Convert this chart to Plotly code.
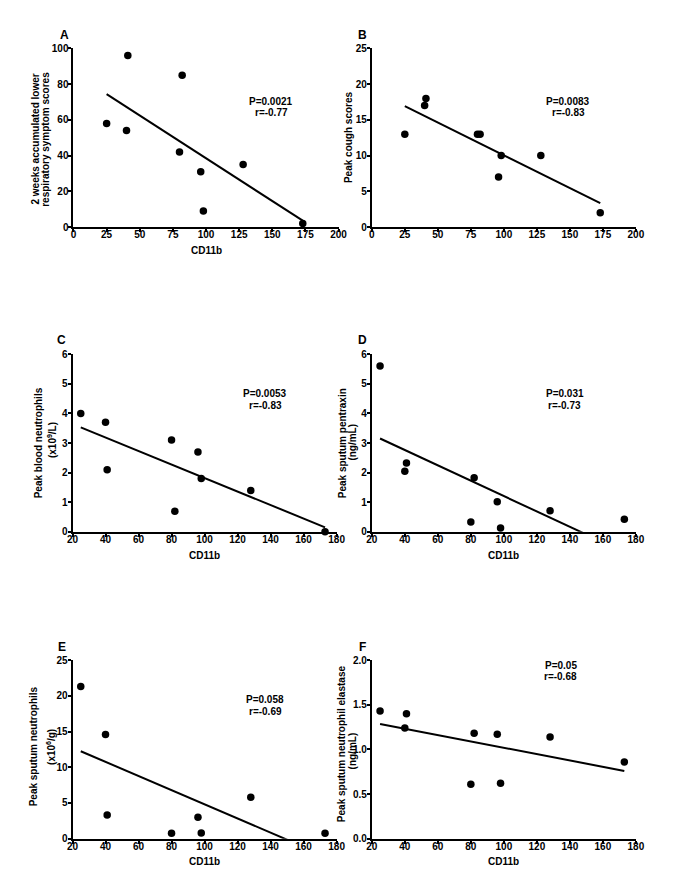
import numpy as np
import plotly.graph_objects as go

W, H = 685, 896

# ---- data ----
cd11b = [25, 40, 41, 80, 82, 96, 98, 128, 173]
symptom_scores = [58, 54, 96, 42, 85, 31, 9, 35, 2]
cough_scores = [13, 17, 18, 13, 13, 7, 10, 10, 2]
blood_neutrophils = [4.0, 3.7, 2.1, 3.1, 0.7, 2.7, 1.8, 1.4, 0.0]
sputum_pentraxin = [5.6, 2.05, 2.33, 0.33, 1.83, 1.02, 0.13, 0.71, 0.43]
cd11b_e = [25, 40, 41, 80, 96, 98, 128, 173]
sputum_neutrophils = [21.3, 14.6, 3.3, 0.75, 3.0, 0.8, 5.8, 0.75]
neutrophil_elastase = [1.43, 1.24, 1.40, 0.61, 1.18, 1.17, 0.62, 1.14, 0.86]

letters = ["A", "B", "C", "D", "E", "F"]
y_titles = [
    ["2 weeks accumulated lower", "respiratory symptom scores"],
    ["Peak cough scores"],
    ["Peak blood neutrophils", "(x10<sup>9</sup>/L)"],
    ["Peak sputum pentraxin", "(ng/mL)"],
    ["Peak sputum neutrophils", "(x10<sup>6</sup>/g)"],
    ["Peak sputum neutrophil elastase", "(ng/mL)"],
]
p_values = ["P=0.0021", "P=0.0083", "P=0.0053", "P=0.031", "P=0.058", "P=0.05"]
r_values = ["r=-0.77", "r=-0.83", "r=-0.83", "r=-0.73", "r=-0.69", "r=-0.68"]
x_title = "CD11b"

# ---- panel geometry (pixels) ----
panels = [
    dict(x=cd11b, y=symptom_scores, box=(69, 340, 43, 224), xr=[0, 200], xd=25, yr=[0, 100], yd=20, yf="",
         letter=(60, 29), yt=[(30, 135), (40.5, 135)], xt=248, stat=(271, 97, 108)),
    dict(x=cd11b, y=cough_scores, box=(374, 644, 43, 224), xr=[0, 200], xd=25, yr=[0, 25], yd=5, yf="",
         letter=(364, 29), yt=[(349.5, 133)], xt=None, stat=(575, 97, 108)),
    dict(x=cd11b, y=blood_neutrophils, box=(68, 338, 353, 533), xr=[20, 180], xd=20, yr=[0, 6], yd=1, yf="",
         letter=(57, 339), yt=[(33, 443), (47, 440)], xt=557, stat=(265, 393, 405)),
    dict(x=cd11b, y=sputum_pentraxin, box=(374, 644, 353, 533), xr=[20, 180], xd=20, yr=[0, 6], yd=1, yf="",
         letter=(364, 339), yt=[(343.7, 443), (354.3, 442)], xt=557, stat=(571.5, 393, 405)),
    dict(x=cd11b_e, y=sputum_neutrophils, box=(68, 338, 663, 844), xr=[20, 180], xd=20, yr=[0, 25], yd=5, yf="",
         letter=(57, 650), yt=[(29, 750), (46, 751)], xt=867, stat=(265, 703, 715)),
    dict(x=cd11b, y=neutrophil_elastase, box=(374, 644, 663, 844), xr=[20, 180], xd=20, yr=[0, 2], yd=0.5,
         yf=".1f", letter=(364, 650), yt=[(343.7, 748), (354.3, 755)], xt=867, stat=(567, 668, 680)),
]

FONT = "Liberation Sans, Arial, sans-serif"


def txt(size=10):
    return dict(family=FONT, size=size, color="black", weight="bold")


def px(x, y):
    return x / W, 1 - y / H


fig = go.Figure()
annotations = []
layout_axes = {}

for i, p in enumerate(panels):
    n = "" if i == 0 else str(i + 1)
    x0, x1, y0, y1 = p["box"]
    xa, ya = "x" + n, "y" + n

    fig.add_trace(go.Scatter(x=p["x"], y=p["y"], mode="markers", xaxis=xa, yaxis=ya,
                             marker=dict(color="black", size=7.5), cliponaxis=False, showlegend=False))
    slope, icpt = np.polyfit(p["x"], p["y"], 1)
    lx = [min(p["x"]), max(p["x"])]
    ly = [slope * v + icpt for v in lx]
    fig.add_trace(go.Scatter(x=lx, y=ly, mode="lines", xaxis=xa, yaxis=ya,
                             line=dict(color="black", width=2), showlegend=False))

    common = dict(showgrid=False, zeroline=False, showline=True, linecolor="black", linewidth=2,
                  ticks="outside", ticklen=3, tickwidth=1.5, tickcolor="black", tickfont=txt(10))
    layout_axes["xaxis" + n] = dict(domain=[x0 / W, x1 / W], range=p["xr"], dtick=p["xd"], tick0=0,
                                    anchor=ya, ticklabelstandoff=-6, **common)
    layout_axes["yaxis" + n] = dict(domain=[1 - y1 / H, 1 - y0 / H], range=p["yr"], dtick=p["yd"], tick0=0,
                                    tickformat=p["yf"], anchor=xa, ticklabelstandoff=-2, **common)

    lx_, ly_ = px(*p["letter"])
    annotations.append(dict(text=letters[i], x=lx_, y=ly_, xanchor="center", yanchor="middle",
                            font=txt(12)))
    for line, (tx, ty) in zip(y_titles[i], p["yt"]):
        ax_, ay_ = px(tx, ty)
        annotations.append(dict(text=line, x=ax_, y=ay_, xanchor="center", yanchor="middle",
                                textangle=-90, font=txt(10)))
    if p["xt"] is not None:
        ax_, ay_ = px((x0 + x1) / 2, p["xt"])
        annotations.append(dict(text=x_title, x=ax_, y=ay_, xanchor="center", yanchor="middle",
                                font=txt(10)))
    sx, sy1, sy2 = p["stat"]
    for t, sy in ((p_values[i], sy1), (r_values[i], sy2)):
        ax_, ay_ = px(sx, sy)
        annotations.append(dict(text=t, x=ax_, y=ay_, xanchor="center", yanchor="middle", font=txt(10)))

for a in annotations:
    a.update(xref="paper", yref="paper", showarrow=False)

fig.update_layout(width=W, height=H, margin=dict(l=0, r=0, t=0, b=0), paper_bgcolor="white",
                  plot_bgcolor="white", annotations=annotations, **layout_axes)

fig.write_html("out.html", config={"displayModeBar": False},
               post_script="document.body.style.margin='0';")
